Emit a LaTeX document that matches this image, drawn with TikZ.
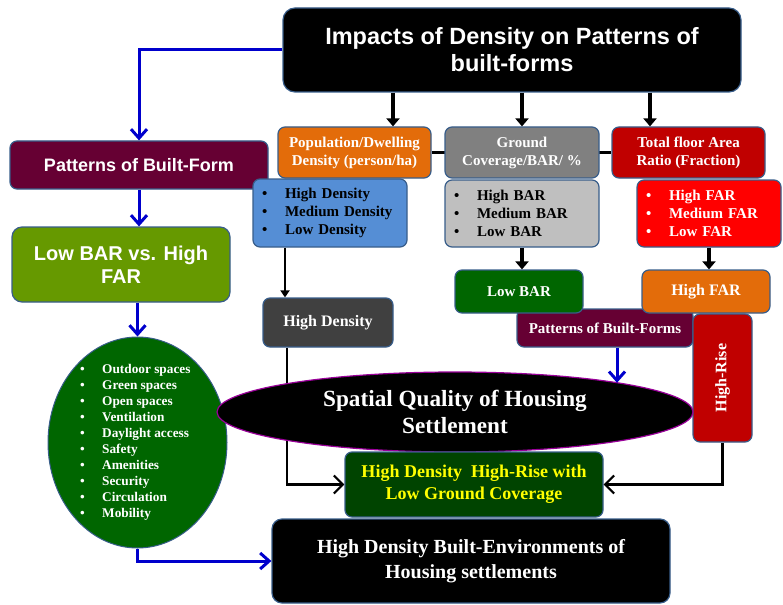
\documentclass[tikz,border=0pt]{standalone}
\usepackage{fontspec}
\usepackage{graphicx}
\setmainfont{Liberation Serif}
\newfontfamily\arialfont{Liberation Sans}
\usetikzlibrary{shapes.geometric,arrows.meta,backgrounds}
\definecolor{boxline}{RGB}{56,93,138}
\definecolor{maroonbox}{RGB}{102,0,51}
\definecolor{olivebox}{RGB}{102,153,0}
\definecolor{ellgreen}{RGB}{0,102,0}
\definecolor{orangebox}{RGB}{227,108,10}
\definecolor{greybox}{RGB}{128,128,128}
\definecolor{darkredbox}{RGB}{192,0,0}
\definecolor{bluelist}{RGB}{85,142,213}
\definecolor{greylist}{RGB}{191,191,191}
\definecolor{redlist}{RGB}{255,0,0}
\definecolor{darkgreybox}{RGB}{64,64,64}
\definecolor{resgreen}{RGB}{0,68,0}
\definecolor{yellowtext}{RGB}{255,255,0}
\definecolor{ellline}{RGB}{153,0,153}
\definecolor{arrowblue}{RGB}{0,0,204}
\newcommand{\bulletline}[2][23pt]{\makebox[#1][l]{\textbullet}#2}
\begin{document}
\begin{tikzpicture}[x=1pt,y=-1pt,
    box/.style={draw=boxline,line width=1.2pt,rounded corners=7pt,inner sep=2pt,align=center,text=white},
    listbox/.style={box,align=left,inner xsep=9pt,font=\bfseries\fontsize{15}{18}\selectfont},
    bluearrow/.style={draw=arrowblue,line width=3pt,-{Straight Barb[length=9pt,width=16pt]}},
    thickarrow/.style={line width=4pt,-{Triangle[length=8pt,width=13pt]}},
    thinarrow/.style={line width=2.2pt,-{Triangle[length=7pt,width=9pt]}},
    chevarrow/.style={line width=2.2pt,-{Straight Barb[length=9pt,width=18pt]}}]
  \useasboundingbox (0,0) rectangle (783,604);
  \node[box,fill=black,minimum width=458,minimum height=84,rounded corners=12pt,
    font=\arialfont\bfseries\fontsize{23.5}{27}\selectfont] (title) at (512,50)
    {Impacts of Density on Patterns of\\built-forms};
  \node[box,fill=maroonbox,minimum width=258,minimum height=48,
    font=\arialfont\bfseries\fontsize{18}{22}\selectfont] (pbf) at (139,165) {Patterns of Built-Form};
  \node[box,fill=olivebox,minimum width=218,minimum height=75,rounded corners=10pt,
    font=\arialfont\bfseries\fontsize{20}{23}\selectfont] (lowhigh) at (121,264.5) {Low BAR vs. High\\FAR};
  \node[ellipse,draw=boxline,line width=1pt,fill=ellgreen,minimum width=179,minimum height=211,inner sep=0] (attrs) at (137.5,442.5) {};
  \node[anchor=west,inner sep=0,align=left,text=white,font=\bfseries\fontsize{13.3}{16}\selectfont] (attrlist) at (80,442.5)
    {\bulletline[22pt]{Outdoor spaces}\\\bulletline[22pt]{Green spaces}\\\bulletline[22pt]{Open spaces}\\
     \bulletline[22pt]{Ventilation}\\\bulletline[22pt]{Daylight access}\\\bulletline[22pt]{Safety}\\
     \bulletline[22pt]{Amenities}\\\bulletline[22pt]{Security}\\\bulletline[22pt]{Circulation}\\
     \bulletline[22pt]{Mobility}};
  \node[box,fill=orangebox,minimum width=153,minimum height=51,
    font=\bfseries\fontsize{15}{18}\selectfont] (popbox) at (354.5,152.5) {Population/Dwelling\\Density (person/ha)};
  \node[box,fill=greybox,minimum width=154,minimum height=51,
    font=\bfseries\fontsize{15}{18}\selectfont] (gcbox) at (522,152.5) {Ground\\Coverage/BAR/ \%};
  \node[box,fill=darkredbox,minimum width=153,minimum height=51,
    font=\bfseries\fontsize{15}{18}\selectfont] (farbox) at (688.5,152.5) {Total floor Area\\Ratio (Fraction)};
  \node[listbox,fill=bluelist,text=black,minimum height=68,text width=136] (poplist) at (330,213)
    {\bulletline{High Density}\\\bulletline{Medium Density}\\\bulletline{Low Density}};
  \node[listbox,fill=greylist,text=black,minimum height=67,text width=136] (gclist) at (522,213.5)
    {\bulletline{High BAR}\\\bulletline{Medium BAR}\\\bulletline{Low BAR}};
  \node[listbox,fill=redlist,minimum height=67,text width=126] (farlist) at (709,213.5)
    {\bulletline{High FAR}\\\bulletline{Medium FAR}\\\bulletline{Low FAR}};
  \node[box,fill=darkgreybox,minimum width=130,minimum height=49,
    font=\bfseries\fontsize{16}{19}\selectfont] (hdbox) at (328,322.5) {High Density};
  \node[box,fill=maroonbox,minimum width=176,minimum height=38,
    font=\bfseries\fontsize{15}{18}\selectfont] (pbf2) at (605,328) {Patterns of Built-Forms};
  \node[box,fill=ellgreen,minimum width=128,minimum height=43,
    font=\bfseries\fontsize{15}{18}\selectfont] (lowbar) at (519,291.5) {Low BAR};
  \node[box,fill=orangebox,minimum width=128,minimum height=43,
    font=\bfseries\fontsize{16}{19}\selectfont] (highfar) at (706,291.5) {High FAR};
  \node[box,fill=darkredbox,minimum width=59,minimum height=128,
    font=\bfseries\fontsize{16}{19}\selectfont] (highrise) at (722.5,378) {\rotatebox{90}{High-Rise}};
  \node[ellipse,draw=ellline,line width=1.2pt,fill=black,text=white,minimum width=476,minimum height=80,
    inner sep=0,align=center,font=\bfseries\fontsize{23.2}{27}\selectfont] (spatial) at (455,412)
    {Spatial Quality of Housing\\Settlement};
  \node[box,fill=resgreen,text=yellowtext,minimum width=258,minimum height=65,
    font=\bfseries\fontsize{18}{22}\selectfont] (result) at (474,484.5)
    {High Density~ High-Rise with\\Low Ground Coverage};
  \node[box,fill=black,minimum width=398,minimum height=84,rounded corners=10pt,
    font=\bfseries\fontsize{20}{25}\selectfont] (envir) at (471,561)
    {High Density Built-Environments of\\Housing settlements};
  \coordinate (popin) at ([xshift=38.5pt]popbox.north);
  \coordinate (farin) at ([xshift=-38.5pt]farbox.north);
  \coordinate (hdin) at ([xshift=-45pt]poplist.south);
  \coordinate (hdout) at ([xshift=-41pt]hdbox.south);
  \coordinate (spin) at ([xshift=12pt]pbf2.south);
  \begin{scope}[on background layer]
    \draw[line width=3pt] (popbox.east) -- (farbox.west);
    \draw[chevarrow] (hdout) |- (result.west);
  \end{scope}
  \draw[bluearrow] (title.west) -| (pbf.north);
  \draw[bluearrow] (pbf.south) -- (pbf.south |- lowhigh.north);
  \draw[bluearrow] (attrs.north |- lowhigh.south) -- (attrs.north);
  \draw[bluearrow] (attrs.south) |- (envir.west);
  \draw[bluearrow] (spin) -- (spin |- spatial.10);
  \draw[thickarrow] (popin |- title.south) -- (popin);
  \draw[thickarrow] (gcbox.north |- title.south) -- (gcbox.north);
  \draw[thickarrow] (farin |- title.south) -- (farin);
  \draw[thickarrow] (gclist.south) -- (gclist.south |- lowbar.north);
  \draw[thickarrow] (farlist.south) -- (farlist.south |- highfar.north);
  \draw[thinarrow] (hdin) -- (hdin |- hdbox.north);
  \draw[chevarrow] (highrise.south) |- (result.east);
\end{tikzpicture}
\end{document}
